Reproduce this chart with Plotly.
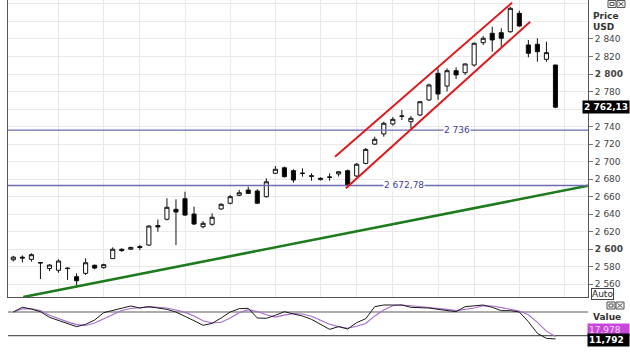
import plotly.graph_objects as go

# ---------------- data ----------------
candle_index = list(range(61))
open_ = [2588, 2591, 2588.5, 2584.8, 2578, 2576, 2578.5, 2568.7, 2572.5, 2581.7,
         2579, 2589.3, 2600, 2600, 2603, 2604.8, 2627, 2634.2, 2645.6, 2657.7,
         2640.2, 2625.7, 2628.5, 2646, 2652.5, 2661.6, 2667.6, 2666.5, 2660, 2686.7,
         2693, 2689.7, 2687, 2683.8, 2679.5, 2682.5, 2686, 2689.7, 2683.6, 2698,
         2720, 2731.6, 2743, 2752.2, 2745.6, 2753.2, 2770.4, 2800.8, 2786.3, 2803.8,
         2801.5, 2810.3, 2835.8, 2846.5, 2847.2, 2848.3, 2869.3, 2833.2, 2834, 2816.8,
         2810.3]
high = [2592.5, 2593, 2595.4, 2585.5, 2583, 2588.5, 2579.5, 2572.5, 2589.7, 2582.5,
        2583.5, 2602.2, 2601, 2603, 2605, 2627.6, 2634, 2658.2, 2657, 2665.7,
        2648.6, 2632.2, 2641, 2652.5, 2662, 2667.8, 2671.4, 2668.6, 2681, 2695,
        2694.3, 2691.3, 2692.4, 2686.7, 2682, 2686.7, 2689, 2691, 2698.5, 2715.5,
        2728.5, 2745.6, 2750.9, 2759, 2752, 2769, 2789, 2806.5, 2806.5, 2807.7,
        2812, 2835.8, 2843.4, 2854, 2852.2, 2876.9, 2872.3, 2838.9, 2840.8, 2836.9,
        2810.5]
low = [2586, 2585, 2585.8, 2566, 2575, 2573.2, 2565, 2556.6, 2570.6, 2577,
       2578, 2589, 2597, 2599.5, 2599, 2603.6, 2620, 2633, 2604.8, 2638,
       2627.7, 2623.9, 2627, 2645, 2651.3, 2660.5, 2663, 2652, 2659, 2686,
       2682, 2676, 2682.8, 2678.3, 2678.5, 2678.3, 2683, 2670, 2682, 2697,
       2719, 2728.5, 2741.1, 2747.5, 2738, 2752, 2769.6, 2770.4, 2780, 2794.3,
       2799, 2808.4, 2833.2, 2825.5, 2831.2, 2847.2, 2854, 2819.1, 2814.1, 2814.1,
       2761]
close = [2591, 2590, 2593.8, 2584.4, 2582, 2586.6, 2578, 2564, 2584.6, 2578.5,
         2582.4, 2600, 2598.5, 2602, 2602, 2626.5, 2625.5, 2647.9, 2642.5, 2639,
         2628.8, 2629.6, 2636.5, 2651.3, 2660, 2664.5, 2663.8, 2652.5, 2677, 2691.3,
         2682.8, 2679, 2686.5, 2683.4, 2681, 2682.2, 2688.5, 2673.3, 2697, 2714,
         2725.5, 2743.8, 2748.3, 2751.8, 2749.5, 2768.4, 2787.5, 2777.2, 2803.8, 2799,
         2811.5, 2835.1, 2840.8, 2838.9, 2840.8, 2875, 2854.8, 2823.7, 2825.5, 2824.4,
         2762.13]

stoch_k = [80, 92, 87.6, 80.8, 66.5, 58, 49.6, 42.9, 48.8, 59.7,
           78.3, 83.4, 88.4, 95.2, 90.1, 93.5, 90.1, 86.7, 80, 69.9,
           58, 46.2, 51.3, 64.8, 80, 88.4, 89.3, 64.8, 64, 71.6,
           80.8, 75, 69.9, 61.4, 47.9, 36.1, 42.9, 37, 53, 63.1,
           93.5, 97.7, 97.7, 97.7, 91.8, 91.8, 90.1, 86.7, 83.4, 80.8,
           93.5, 96, 97.7, 91.8, 83.4, 83.4, 80, 55.5, 26, 13.3,
           11.792]
stoch_d = [80, 88, 88, 84, 72, 63, 55, 48, 46, 52,
           63, 75, 84, 89, 91, 93, 92, 90, 85, 79,
           70, 58, 52, 54, 65, 78, 86, 81, 73, 67,
           72, 76, 75, 69, 59, 49, 43, 39, 44, 51,
           70, 85, 96, 97.7, 95.8, 93.8, 91.2, 89.5, 86.7, 83.6,
           85.9, 90.1, 95.7, 95.2, 91, 86.2, 82.3, 73, 53.8, 31.6,
           17.978]
stoch_levels = [80, 20]

price_ticks = [2560, 2580, 2600, 2620, 2640, 2660, 2680, 2700, 2720, 2740,
               2760, 2780, 2800, 2820, 2840]
# the 2 760 label is hidden behind the last-price box in the reference
price_ticktext = ["2 560", "2 580", "<b>2 600</b>", "2 620", "2 640", "2 660", "2 680",
                  "2 700", "2 720", "2 740", "", "2 780", "<b>2 800</b>",
                  "2 820", "2 840"]
week_starts = [5, 10, 14, 19, 24, 29, 34, 38, 42, 47, 51, 56, 61]

h_levels = [2736, 2672.78]
h_level_labels = ["2 736", "2 672,78"]
h_label_pos = [49.1, 43.2]

support_x = [1.1, 63.6]
support_y = [2545.5, 2672.5]
channel_up_x = [35.6, 55.2]
channel_up_y = [2705.6, 2881.4]
channel_lo_x = [36.8, 57.2]
channel_lo_y = [2669.6, 2859.7]

last_price = close[-1]

# ---------------- figure ----------------
W, H = 630, 355
XR = [-0.59, 63.6]
FONT = "DejaVu Sans"


def px(x):
    return x / W


def py(y):
    return 1 - y / H


fig = go.Figure()

fig.add_trace(go.Scatter(x=support_x, y=support_y, mode="lines",
                         line=dict(color="#1d7a1d", width=2.6),
                         xaxis="x", yaxis="y", hoverinfo="skip"))
for lvl in h_levels:
    fig.add_trace(go.Scatter(x=XR, y=[lvl, lvl], mode="lines",
                             line=dict(color="#6c6cb2", width=1.4),
                             xaxis="x", yaxis="y", hoverinfo="skip"))
fig.add_trace(go.Scatter(x=channel_up_x, y=channel_up_y, mode="lines",
                         line=dict(color="#e0181c", width=2),
                         xaxis="x", yaxis="y", hoverinfo="skip"))
fig.add_trace(go.Scatter(x=channel_lo_x, y=channel_lo_y, mode="lines",
                         line=dict(color="#e0181c", width=2),
                         xaxis="x", yaxis="y", hoverinfo="skip"))

fig.add_trace(go.Candlestick(
    x=candle_index, open=open_, high=high, low=low, close=close,
    increasing=dict(line=dict(color="#111111", width=1), fillcolor="#ffffff"),
    decreasing=dict(line=dict(color="#111111", width=1), fillcolor="#000000"),
    whiskerwidth=0, xaxis="x", yaxis="y"))

# stochastic panel
for lvl in stoch_levels:
    fig.add_trace(go.Scatter(x=XR, y=[lvl, lvl], mode="lines",
                             line=dict(color="#5a5a5a", width=1.2),
                             xaxis="x2", yaxis="y2", hoverinfo="skip"))
fig.add_trace(go.Scatter(x=candle_index, y=stoch_d, mode="lines",
                         line=dict(color="#a66ccf", width=1.1),
                         xaxis="x2", yaxis="y2"))
fig.add_trace(go.Scatter(x=candle_index, y=stoch_k, mode="lines",
                         line=dict(color="#1a1a1a", width=1),
                         xaxis="x2", yaxis="y2"))

annotations = []
for lvl, txt, xp in zip(h_levels, h_level_labels, h_label_pos):
    annotations.append(dict(x=xp, y=lvl, xref="x", yref="y", text=txt, showarrow=False,
                            bgcolor="#ffffff", font=dict(family=FONT, size=9, color="#3d3d9e"),
                            borderpad=0))
annotations += [
    dict(x=px(591), y=py(16), xref="paper", yref="paper", text="<b>Price</b>",
         xanchor="left", yanchor="middle", showarrow=False,
         font=dict(family=FONT, size=9, color="#333")),
    dict(x=px(591), y=py(27), xref="paper", yref="paper", text="<b>USD</b>",
         xanchor="left", yanchor="middle", showarrow=False,
         font=dict(family=FONT, size=9, color="#333")),
    dict(x=1.0, y=last_price, xref="paper", yref="y",
         text="<b>" + f"{last_price:,.2f}".replace(",", " ").replace(".", ",") + "</b>",
         xanchor="right", yanchor="middle", showarrow=False, bgcolor="#000000",
         borderpad=1, font=dict(family=FONT, size=9, color="#ffffff")),
    dict(x=px(591), y=py(293.5), xref="paper", yref="paper", text="Auto",
         xanchor="left", yanchor="middle", showarrow=False, bgcolor="#ffffff",
         bordercolor="#444", borderwidth=1, borderpad=0,
         font=dict(family=FONT, size=9, color="#222")),
    dict(x=px(591), y=py(317), xref="paper", yref="paper", text="<b>Value</b>",
         xanchor="left", yanchor="middle", showarrow=False,
         font=dict(family=FONT, size=9, color="#333")),
    dict(x=1.0, y=py(329.5), xref="paper", yref="paper",
         text=f"{stoch_d[-1]:.3f}".replace(".", ","),
         xanchor="right", yanchor="middle", showarrow=False, bgcolor="#c948dc",
         borderpad=1, width=39, align="left",
         font=dict(family=FONT, size=9, color="#f4d8f8")),
    dict(x=1.0, y=py(340), xref="paper", yref="paper",
         text="<b>" + f"{stoch_k[-1]:.3f}".replace(".", ",") + "</b>",
         xanchor="right", yanchor="middle", showarrow=False, bgcolor="#000000",
         borderpad=1, width=39, align="left",
         font=dict(family=FONT, size=9, color="#ffffff")),
]

shapes = []
for (x0, x1, y0, y1) in [(608, 616, 0.5, 7.5), (617, 625, 0.5, 7.5),
                         (607, 615, 302, 309), (616, 624, 302, 309)]:
    shapes.append(dict(type="rect", xref="paper", yref="paper",
                       x0=px(x0), x1=px(x1), y0=py(y1), y1=py(y0),
                       line=dict(color="#555", width=1), fillcolor="#f4f4f4", layer="above"))
for (x0, x1, y0, y1) in [(608, 616, 0.5, 7.5), (607, 615, 302, 309)]:
    shapes.append(dict(type="rect", xref="paper", yref="paper",
                       x0=px(x0 + 2), x1=px(x1 - 2), y0=py(y1 - 2), y1=py(y0 + 2),
                       line=dict(color="#555", width=1), layer="above"))
for (x0, x1, y0, y1) in [(617, 625, 0.5, 7.5), (616, 624, 302, 309)]:
    shapes.append(dict(type="line", xref="paper", yref="paper",
                       x0=px(x0 + 1.5), x1=px(x1 - 1.5), y0=py(y0 + 1.5), y1=py(y1 - 1.5),
                       line=dict(color="#555", width=1), layer="above"))
    shapes.append(dict(type="line", xref="paper", yref="paper",
                       x0=px(x0 + 1.5), x1=px(x1 - 1.5), y0=py(y1 - 1.5), y1=py(y0 + 1.5),
                       line=dict(color="#555", width=1), layer="above"))

fig.update_layout(
    width=W, height=H,
    margin=dict(l=0, r=0, t=0, b=0),
    paper_bgcolor="#ffffff", plot_bgcolor="#ffffff",
    showlegend=False,
    boxgap=0.35,
    font=dict(family=FONT, size=9, color="#333"),
    xaxis=dict(domain=[px(8), px(588)], range=XR, anchor="y",
               tickvals=week_starts, showticklabels=False, ticks="",
               showgrid=True, gridcolor="#e9e9e9", gridwidth=1, zeroline=False,
               showline=True, linecolor="#555", linewidth=1,
               rangeslider=dict(visible=False), fixedrange=True),
    yaxis=dict(domain=[py(297), 1], range=[2545.5, 2884.5], anchor="x", side="right",
               tickvals=price_ticks, ticktext=price_ticktext,
               ticks="outside", ticklen=4, tickcolor="#777",
               tickfont=dict(family=FONT, size=9, color="#444"),
               showgrid=True, gridcolor="#e9e9e9", gridwidth=1, zeroline=False,
               showline=True, linecolor="#555", linewidth=1, mirror=True,
               minor=dict(tickvals=[2860, 2880], showgrid=True, gridcolor="#e9e9e9", ticks=""),
               fixedrange=True),
    xaxis2=dict(domain=[px(8), px(588)], range=XR, anchor="y2",
                showticklabels=False, ticks="", showgrid=False, zeroline=False,
                showline=False, fixedrange=True),
    yaxis2=dict(domain=[py(347), py(299)], range=[-8.6, 112.9], anchor="x2", side="right",
                showticklabels=False, ticks="", showgrid=False, zeroline=False,
                showline=False, fixedrange=True),
    annotations=annotations,
    shapes=shapes,
)

fig.write_html("out.html")
